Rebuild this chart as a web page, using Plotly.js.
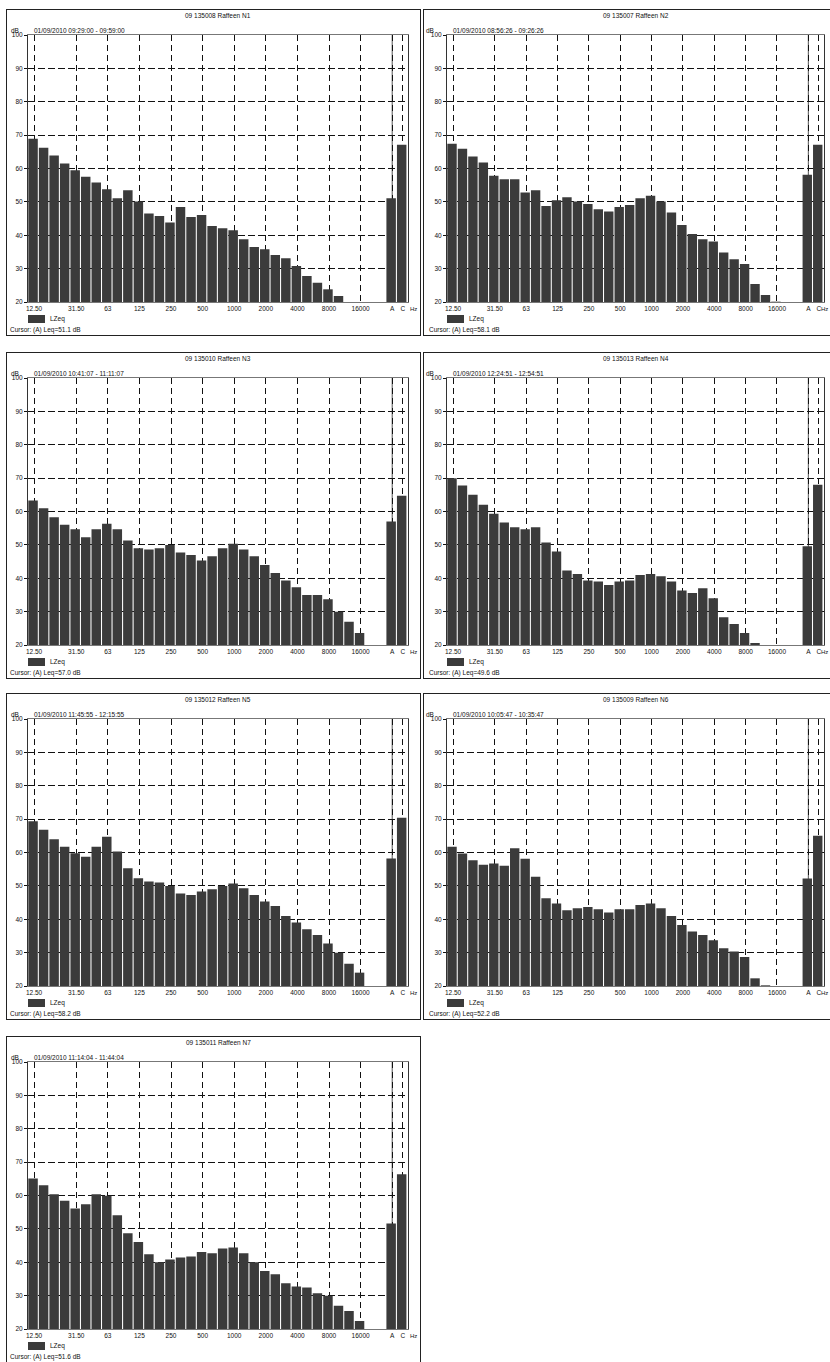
<!DOCTYPE html>
<html><head><meta charset="utf-8">
<script src="https://cdn.plot.ly/plotly-3.0.1.min.js"></script>
<style>
html,body{margin:0;padding:0;background:#fff;width:830px;height:1362px;overflow:hidden;position:relative}
.panel{position:absolute}
.frame{position:absolute;border:1px solid #222;box-sizing:border-box;pointer-events:none}
</style></head><body>
<script>
// third-octave band centre frequencies (Hz)
const bands = ["12.5","16","20","25","31.5","40","50","63","80","100","125","160","200","250","315","400","500","630","800","1000","1250","1600","2000","2500","3150","4000","5000","6300","8000","10000","12500","16000","20000"];
const labelledBands = ["12.5","31.5","63","125","250","500","1000","2000","4000","8000","16000"];
const labelledText = ["12.50","31.50","63","125","250","500","1000","2000","4000","8000","16000"];
const overallLabels = ["A","C"];

const panelIds = ["09 135008 Raffeen N1","09 135007 Raffeen N2","09 135010 Raffeen N3","09 135013 Raffeen N4","09 135012 Raffeen N5","09 135009 Raffeen N6","09 135011 Raffeen N7"];
const periods = ["01/09/2010 09:29:00 - 09:59:00","01/09/2010 08:56:26 - 09:26:26","01/09/2010 10:41:07 - 11:11:07","01/09/2010 12:24:51 - 12:54:51","01/09/2010 11:45:55 - 12:15:55","01/09/2010 10:05:47 - 10:35:47","01/09/2010 11:14:04 - 11:44:04"];

// LZeq per band (dB); null = below 20 dB floor
const n1 = [68.9,66.2,63.9,61.5,59.5,57.5,55.8,53.8,51.1,53.5,50.1,46.5,45.8,43.8,48.5,45.5,46.1,42.8,42.1,41.5,38.8,36.5,35.8,34.1,33.1,30.8,27.8,25.8,23.8,21.8,null,null,null];
const n2 = [67.4,65.9,63.6,61.8,57.8,56.8,56.8,52.8,53.5,48.8,50.5,51.4,50.1,49.4,47.8,47.1,48.5,49.1,51.1,51.8,50.1,46.8,43.1,40.4,38.8,38.1,34.8,32.8,31.4,25.4,22.1,20.1,null];
const n3 = [63.3,61.0,58.3,56.0,54.7,52.3,54.7,56.3,54.7,51.3,49.0,48.6,49.0,50.0,47.7,47.0,45.3,46.6,49.0,50.3,48.6,46.6,44.0,41.6,39.3,37.3,35.0,35.0,33.7,30.0,27.0,23.6,null];
const n4 = [70.0,67.8,65.0,62.0,59.3,56.7,55.3,54.7,55.3,50.7,48.0,42.3,41.3,39.3,39.0,38.0,39.0,39.3,41.0,41.3,40.6,39.0,36.3,35.6,37.0,34.0,28.3,26.3,23.6,20.6,null,null,null];
const n5 = [69.4,66.8,64.0,61.7,59.8,58.7,61.7,64.7,60.3,55.3,52.3,51.3,51.0,50.0,47.7,47.3,48.3,49.0,50.0,50.7,49.3,47.3,45.3,44.0,41.0,39.0,37.0,35.3,32.7,30.0,26.7,24.0,null];
const n6 = [61.7,59.7,57.7,56.3,56.7,56.0,61.3,58.1,52.7,46.3,44.7,42.7,43.3,43.7,43.0,42.0,43.0,43.0,44.3,44.7,43.3,41.0,38.3,36.3,35.3,33.7,31.3,30.3,28.7,22.3,20.2,null,null];
const n7 = [65.1,63.1,60.4,58.4,56.1,57.4,60.4,59.9,54.1,48.7,46.1,42.4,40.0,40.8,41.4,41.7,43.1,42.7,44.1,44.4,42.7,40.0,37.4,36.4,33.7,32.7,32.4,30.7,30.0,27.0,25.4,22.4,null];

// overall A- and C-weighted Leq (dB)
const overallA = [51.1,58.1,57.0,49.6,58.2,52.2,51.6];
const overallC = [67.1,67.1,64.7,68.0,70.4,65.0,66.4];

const series = [n1,n2,n3,n4,n5,n6,n7];

// ---- layout helpers ----
const colLeft = [6, 423];
const rowTop = [9, 352, 693, 1036];
const W = 415, H = 327;
const marginL = [22, 24], marginR = [13, 14];
const MT = 26, MB = 34;
const FONT = "Liberation Sans, Arial, sans-serif";
const BAR = "#3b3b3b";

const bandX = bands.map((b, i) => i);
const aX = bands.length + 1;   // one empty slot after the bands
const cX = bands.length + 2;
const tickX = labelledBands.map(b => bands.indexOf(b)).concat([aX, cX]);
const tickT = labelledText.concat(overallLabels);

series.forEach((vals, k) => {
  const col = k % 2, row = Math.floor(k / 2);
  const div = document.createElement("div");
  div.className = "panel";
  div.id = "p" + k;
  div.style.left = colLeft[col] + "px";
  div.style.top = rowTop[row] + "px";
  div.style.width = W + "px";
  div.style.height = H + "px";
  document.body.appendChild(div);
  const fr = document.createElement("div");
  fr.className = "frame";
  fr.style.left = colLeft[col] + "px";
  fr.style.top = rowTop[row] + "px";
  fr.style.width = W + "px";
  fr.style.height = H + "px";
  document.body.appendChild(fr);

  const plotW = W - marginL[col] - marginR[col];
  const plotH = H - MT - MB;

  const trace = {
    type: "bar",
    name: "LZeq",
    x: bandX.concat([aX, cX]),
    y: vals.concat([overallA[k], overallC[k]]),
    width: 0.9,
    offset: -0.55,
    marker: {color: BAR, line: {width: 0}},
    showlegend: false,
    hoverinfo: "skip"
  };

  const f = {family: FONT, size: 6.5, color: "#111"};
  // the right-hand column is clipped by the page edge: keep "Hz" inside it
  const hzAnn = col === 0
    ? {x: 1, xshift: 5, xanchor: "center"}
    : {x: 1, xshift: 6, xanchor: "right"};
  const layout = {
    width: W, height: H,
    margin: {l: marginL[col], r: marginR[col], t: MT, b: MB, pad: 0},
    paper_bgcolor: "rgba(0,0,0,0)",
    plot_bgcolor: "#fff",
    font: f,
    showlegend: false,
    xaxis: {
      range: [-0.58, cX + 0.5],
      tickmode: "array", tickvals: tickX, ticktext: tickT,
      tickfont: f, ticks: "", tickangle: 0,
      showgrid: true, gridcolor: "#111", gridwidth: 1, griddash: "6px,4px",
      zeroline: false, showline: true, linecolor: "#777", linewidth: 1, mirror: true,
      fixedrange: true
    },
    yaxis: {
      range: [20, 100], tick0: 20, dtick: 10,
      tickfont: f, ticks: "outside", ticklen: 3, tickcolor: "#111",
      showgrid: true, gridcolor: "#111", gridwidth: 1, griddash: "7px,3px",
      zeroline: false, showline: true, linecolor: "#333", linewidth: 1, mirror: true,
      fixedrange: true
    },
    shapes: [
      {type: "line", xref: "x", yref: "paper", x0: aX, x1: aX, y0: 0, y1: 1,
       line: {color: "#555", width: 1}, layer: "between"},
      {type: "rect", xref: "paper", yref: "paper",
       x0: 0, x1: 17 / plotW, y0: -21 / plotH, y1: -13 / plotH,
       fillcolor: BAR, line: {width: 0}}
    ],
    annotations: [
      {text: panelIds[k], xref: "paper", yref: "paper", x: 0.5, y: 1, yshift: 20,
       xanchor: "center", yanchor: "middle", showarrow: false, font: f},
      {text: "dB", xref: "paper", yref: "paper", x: 0, y: 1, xshift: col === 0 ? -13 : -17, yshift: 5,
       xanchor: "center", yanchor: "middle", showarrow: false, font: f},
      {text: periods[k], xref: "paper", yref: "paper", x: 0, y: 1, xshift: 4, yshift: 5,
       xanchor: "left", yanchor: "middle", showarrow: false, font: f},
      Object.assign({text: "Hz", xref: "paper", yref: "paper", y: 0, yshift: -7,
       yanchor: "middle", showarrow: false, font: {family: FONT, size: 6, color: "#111"}}, hzAnn),
      {text: "LZeq", xref: "paper", yref: "paper", x: 0, y: 0, xshift: 20, yshift: -17,
       xanchor: "left", yanchor: "middle", showarrow: false, font: f},
      {text: "Cursor: (A) Leq=" + overallA[k].toFixed(1) + " dB", xref: "paper", yref: "paper",
       x: 0, y: 0, xshift: -20, yshift: -28,
       xanchor: "left", yanchor: "middle", showarrow: false, font: f}
    ]
  };
  Plotly.newPlot(div, [trace], layout, {staticPlot: true, displayModeBar: false});
});
</script>
</body></html>
